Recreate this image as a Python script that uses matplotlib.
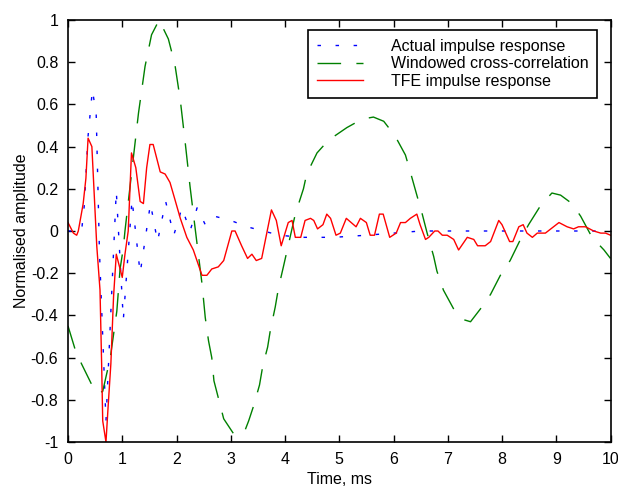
import matplotlib.pyplot as plt

plt.rcParams['font.family'] = ['Liberation Sans', 'DejaVu Sans']

# Actual impulse response (vertices of the zigzag)
t_act = [0, 0.25, 0.30, 0.37, 0.45, 0.52, 0.58, 0.70, 0.89, 1.02, 1.18, 1.33,
         1.52, 1.65, 1.80, 1.95, 2.10, 2.25, 2.38, 2.53, 2.70, 3.0, 3.3, 3.6,
         3.9, 4.3, 4.9, 5.5, 6.0, 6.5, 7.0, 8.0, 9.0, 10.0]
y_act = [0, 0.0, 0.12, 0.45, 0.67, 0.55, -0.1, -0.9, 0.19, -0.42, 0.15, -0.2,
         0.13, -0.05, 0.14, -0.02, 0.11, 0.0, 0.11, 0.03, 0.07, 0.05, 0.02, 0.0,
         -0.02, -0.03, -0.03, -0.02, -0.01, 0.0, 0.0, 0.0, 0.0, 0.0]

# Windowed cross-correlation
t_xc = [0, 0.13, 0.25, 0.46, 0.55, 0.64, 0.78, 0.9, 0.96, 1.02, 1.05, 1.17,
        1.3, 1.42, 1.54, 1.68, 1.85, 1.97, 2.07, 2.16, 2.25, 2.34, 2.47, 2.53,
        2.59, 2.65, 2.69, 2.77, 2.87, 3.05, 3.14, 3.27, 3.33, 3.42, 3.53, 3.59,
        3.68, 3.73, 3.82, 3.88, 3.97, 4.19, 4.34, 4.40, 4.59, 4.8, 5.14, 5.42,
        5.63, 5.82, 6.03, 6.22, 6.31, 6.43, 6.53, 6.62, 6.74, 6.8, 6.92, 7.11,
        7.29, 7.42, 7.6, 7.79, 7.97, 8.15, 8.34, 8.49, 8.71, 8.92, 9.08, 9.29,
        9.45, 9.66, 9.88, 10.0]
y_xc = [-0.45, -0.56, -0.63, -0.74, -0.77, -0.76, -0.6, -0.38, -0.18, -0.08,
        0.0, 0.27, 0.56, 0.78, 0.93, 1.0, 0.91, 0.79, 0.62, 0.42, 0.21, 0.02,
        -0.25, -0.41, -0.52, -0.6, -0.71, -0.79, -0.89, -0.96, -0.97, -0.94,
        -0.9, -0.83, -0.73, -0.64, -0.55, -0.47, -0.36, -0.27, -0.17, 0.08,
        0.20, 0.27, 0.37, 0.43, 0.49, 0.53, 0.54, 0.52, 0.45, 0.36, 0.28, 0.17,
        0.08, -0.01, -0.12, -0.19, -0.28, -0.37, -0.42, -0.43, -0.37, -0.30,
        -0.21, -0.14, -0.04, 0.03, 0.12, 0.18, 0.17, 0.13, 0.07, -0.03, -0.09,
        -0.13]

# TFE impulse response
t_tfe = [0.0, 0.1, 0.16, 0.19, 0.28, 0.33, 0.37, 0.44, 0.53, 0.59, 0.62, 0.64,
         0.70, 0.74, 0.79, 0.84, 0.89, 0.96, 1.0, 1.05, 1.11, 1.17, 1.25, 1.33,
         1.39, 1.45, 1.51, 1.57, 1.70, 1.79, 1.88, 1.97, 2.07, 2.19, 2.31, 2.47,
         2.56, 2.65, 2.77, 2.87, 3.02, 3.08, 3.2, 3.31, 3.39, 3.47, 3.57, 3.75,
         3.84, 3.93, 4.06, 4.13, 4.19, 4.29, 4.37, 4.47, 4.53, 4.6, 4.7, 4.77,
         4.84, 4.94, 5.02, 5.13, 5.22, 5.31, 5.39, 5.5, 5.57, 5.65, 5.74, 5.81,
         5.93, 6.05, 6.13, 6.22, 6.31, 6.43, 6.49, 6.59, 6.65, 6.76, 6.82, 6.9,
         6.99, 7.11, 7.2, 7.36, 7.48, 7.55, 7.69, 7.79, 7.94, 8.0, 8.14, 8.2,
         8.31, 8.39, 8.46, 8.56, 8.65, 8.8, 9.05, 9.2, 9.32, 9.41, 9.54, 9.69,
         9.82, 9.91, 10.0]
y_tfe = [0.04, -0.01, -0.02, 0.0, 0.13, 0.25, 0.44, 0.40, -0.07, -0.28, -0.63,
         -0.9, -1.0, -0.83, -0.63, -0.31, -0.11, -0.18, -0.22, -0.11, 0.0, 0.37,
         0.30, 0.14, 0.13, 0.30, 0.41, 0.41, 0.28, 0.27, 0.23, 0.15, 0.06,
         -0.03, -0.09, -0.21, -0.21, -0.18, -0.17, -0.14, 0.0, 0.0, -0.07,
         -0.13, -0.11, -0.14, -0.13, 0.10, 0.05, -0.07, 0.04, 0.05, -0.03,
         -0.03, 0.05, 0.06, 0.05, 0.01, 0.03, 0.08, 0.06, -0.02, -0.01, 0.06,
         0.04, 0.02, 0.06, 0.04, -0.02, -0.02, 0.08, 0.08, -0.03, -0.01, 0.04,
         0.04, 0.06, 0.08, 0.03, -0.04, -0.03, 0.0, 0.0, -0.02, -0.02, -0.04,
         -0.09, -0.03, -0.04, -0.07, -0.07, -0.05, 0.05, 0.03, -0.05, -0.05,
         0.02, 0.03, -0.01, -0.03, -0.01, -0.01, 0.04, 0.02, 0.01, 0.02, 0.02,
         0.0, -0.01, -0.01, -0.02]

fs = 11.5

fig = plt.figure(figsize=(6.18, 4.86), dpi=100)
ax = fig.add_axes([68 / 618, 44 / 486, 542.5 / 618, 422 / 486])

ax.plot(t_act, y_act, color='blue', linewidth=1.0, linestyle=(0, (2.5, 10.5)),
        label='Actual impulse response')
ax.plot(t_xc, y_xc, color=(0, 0.5, 0), linewidth=1.0, linestyle=(0, (17, 11)),
        label='Windowed cross-correlation')
ax.plot(t_tfe, y_tfe, color='red', linewidth=1.0, label='TFE impulse response')

ax.set_xlim(0, 10)
ax.set_ylim(-1, 1)
ax.set_xticks(range(0, 11))
ax.set_yticks([-1, -0.8, -0.6, -0.4, -0.2, 0, 0.2, 0.4, 0.6, 0.8, 1])
ax.set_yticklabels(['-1', '-0.8', '-0.6', '-0.4', '-0.2', '0', '0.2', '0.4',
                    '0.6', '0.8', '1'])
ax.tick_params(direction='in', top=True, right=True, length=5, width=1,
               labelsize=fs, pad=7)
for s in ax.spines.values():
    s.set_linewidth(1.2)

ax.set_xlabel('Time, ms', fontsize=fs, labelpad=4)
ax.set_ylabel('Normalised amplitude', fontsize=fs, labelpad=1)

leg = ax.legend(loc='upper right', bbox_to_anchor=(597 / 618, 1 - 30 / 486),
                bbox_transform=fig.transFigure, borderaxespad=0, fontsize=fs,
                fancybox=False, framealpha=1, edgecolor='black',
                handlelength=2.9, handletextpad=1.7, labelspacing=0.16,
                borderpad=0.55)
leg.get_frame().set_linewidth(1.2)

fig.savefig('out.png', dpi=100)
